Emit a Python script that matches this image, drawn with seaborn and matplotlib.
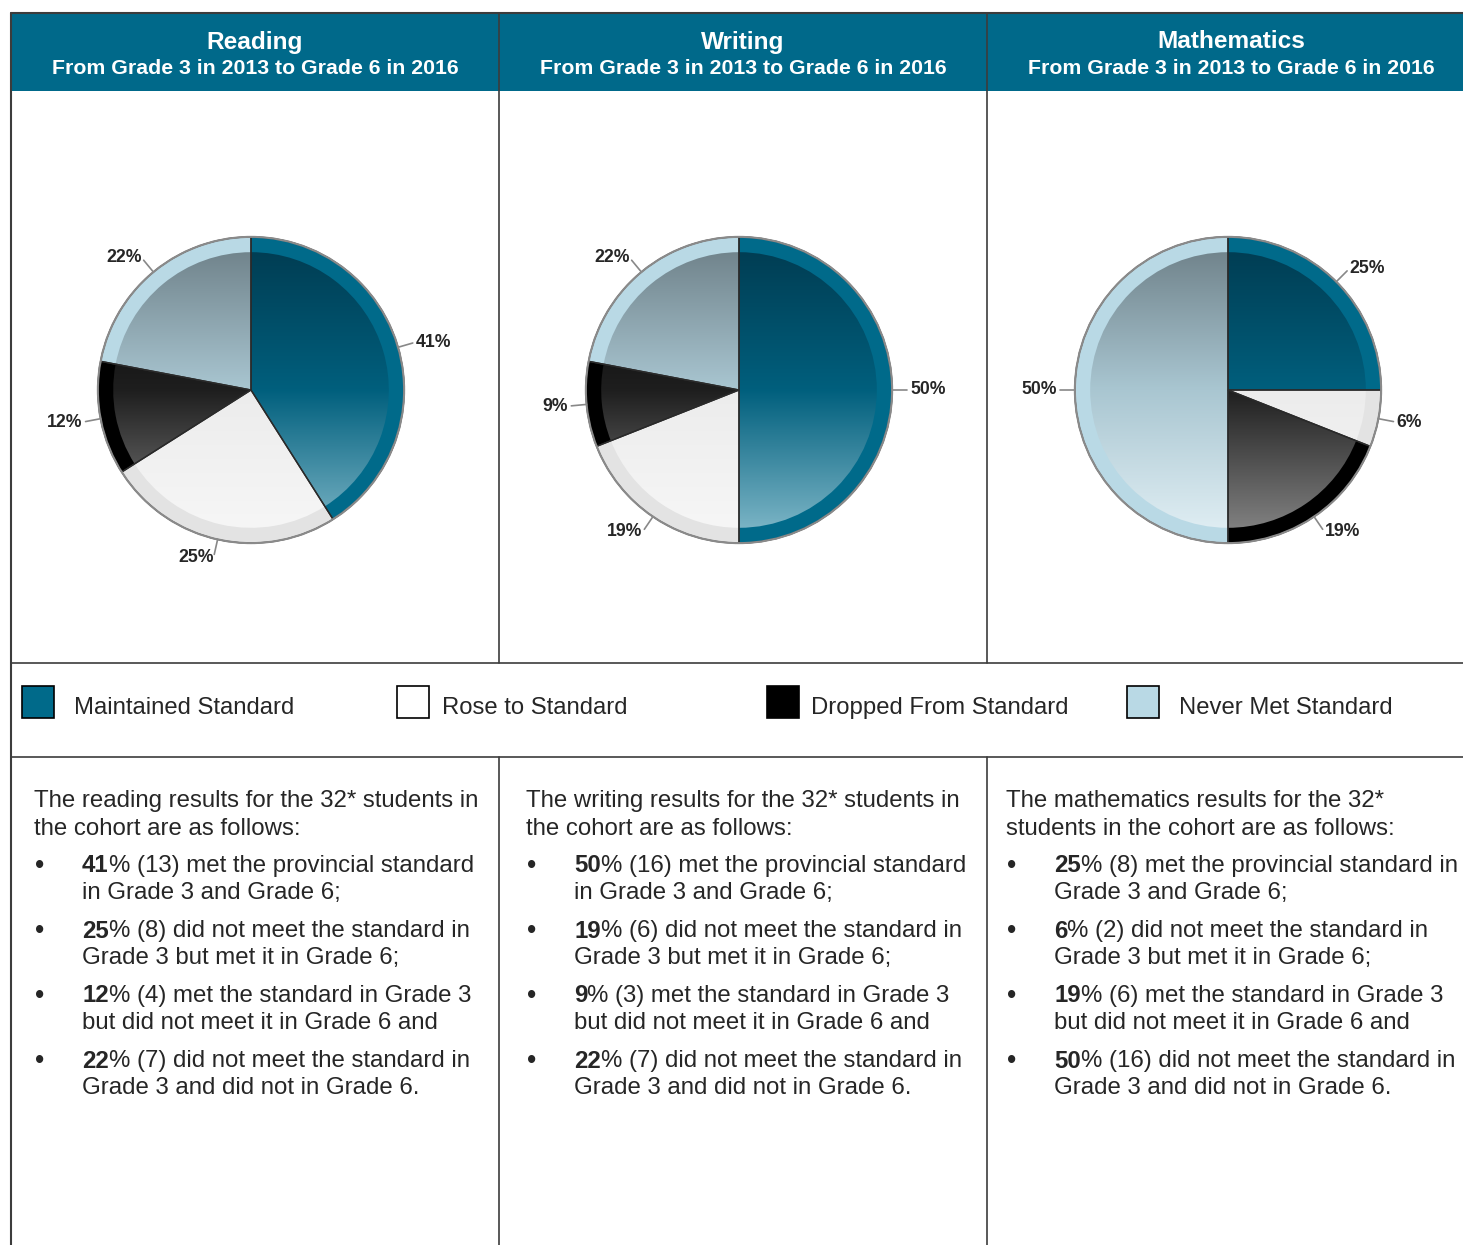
import numpy as np
import matplotlib
matplotlib.use("Agg")
import matplotlib.pyplot as plt
from matplotlib.patches import Wedge, Rectangle
from matplotlib.colors import LinearSegmentedColormap
import seaborn as sns

# data
categories = ["Maintained Standard", "Rose to Standard", "Dropped From Standard", "Never Met Standard"]
subjects = ["Reading", "Writing", "Mathematics"]
subtitle = "From Grade 3 in 2013 to Grade 6 in 2016"
reading_pct = [41, 25, 12, 22]
writing_pct = [50, 19, 9, 22]
math_pct = [25, 6, 19, 50]
reading_n = [13, 8, 4, 7]
writing_n = [16, 6, 3, 7]
math_n = [8, 2, 6, 16]

intro_reading = ["The reading results for the 32* students in", "the cohort are as follows:"]
intro_writing = ["The writing results for the 32* students in", "the cohort are as follows:"]
intro_math = ["The mathematics results for the 32*", "students in the cohort are as follows:"]

phrases_reading = [
    ("met the provincial standard", "in Grade 3 and Grade 6;"),
    ("did not meet the standard in", "Grade 3 but met it in Grade 6;"),
    ("met the standard in Grade 3", "but did not meet it in Grade 6 and"),
    ("did not meet the standard in", "Grade 3 and did not in Grade 6."),
]
phrases_writing = phrases_reading
phrases_math = [
    ("met the provincial standard in", "Grade 3 and Grade 6;"),
    ("did not meet the standard in", "Grade 3 but met it in Grade 6;"),
    ("met the standard in Grade 3", "but did not meet it in Grade 6 and"),
    ("did not meet the standard in", "Grade 3 and did not in Grade 6."),
]

# styles
rim_colors = ["#006a8a", "#e3e3e3", "#000000", "#b9d9e5"]
grad_stops = [
    ["#003a4f", "#005f7d", "#86bccc"],
    ["#e2e2e2", "#ececec", "#f7f7f7"],
    ["#000000", "#1e1e1e", "#8a8a8a"],
    ["#6b7d85", "#a9c6d1", "#e4f1f6"],
]
legend_fill = ["#006a8a", "#ffffff", "#000000", "#b9d9e5"]
header_col = "#00698a"
line_col = "#3c3c3c"

sns.set_style("white")
plt.rcParams['font.family'] = ['Liberation Sans', 'DejaVu Sans']

W, H = 1463, 1245
fig = plt.figure(figsize=(W / 100, H / 100), dpi=100)
ax = fig.add_axes([0, 0, 1, 1])
ax.set_xlim(0, W)
ax.set_ylim(H, 0)
ax.axis("off")

col_x = [11, 499, 987, 1475]

# header band and table lines
ax.add_patch(Rectangle((11, 13), 1475 - 11, 78, facecolor=header_col, edgecolor="none"))
ax.plot([11, 1475], [13, 13], color=line_col, lw=1.5)
ax.plot([11, 11], [13, H], color=line_col, lw=1.5)
for x in col_x[1:3]:
    ax.plot([x, x], [13, 663], color=line_col, lw=1.2)
    ax.plot([x, x], [757, H], color=line_col, lw=1.2)
for y in [663, 757]:
    ax.plot([11, 1475], [y, y], color=line_col, lw=1.2)

for i, s in enumerate(subjects):
    cx = (col_x[i] + col_x[i + 1]) / 2
    ax.text(cx, 42, s, color="white", fontsize=17.6, fontweight="bold", ha="center", va="center")
    ax.text(cx, 68, subtitle, color="white", fontsize=15.3, fontweight="bold", ha="center", va="center")

# legend row
leg_x = [22, 397, 767, 1127]
leg_tx = [74, 442, 811, 1179]
for x, tx, lab, fc in zip(leg_x, leg_tx, categories, legend_fill):
    ax.add_patch(Rectangle((x, 686), 32, 32, facecolor=fc, edgecolor="black", lw=1.2))
    ax.text(tx, 708, lab, fontsize=17.2, ha="left", va="center")

# pies
pies = [reading_pct, writing_pct, math_pct]
pie_cx = [251, 739, 1228]
pie_cy = 390
half = 245
grad = np.linspace(0, 1, 256).reshape(-1, 1)

for vals, cx in zip(pies, pie_cx):
    pax = fig.add_axes([(cx - half) / W, (H - pie_cy - half) / H, 2 * half / W, 2 * half / H])
    wedges, _ = pax.pie(vals, colors=rim_colors, startangle=90, counterclock=False,
                        wedgeprops=dict(edgecolor="none"))
    for k, w in enumerate(wedges):
        inner = Wedge((0, 0), 0.9, w.theta1, w.theta2, facecolor="none", edgecolor="none")
        pax.add_patch(inner)
        cmap = LinearSegmentedColormap.from_list("g%d" % k, grad_stops[k])
        im = pax.imshow(grad, cmap=cmap, extent=(-1, 1, -1, 1), aspect="auto", zorder=2)
        im.set_clip_path(inner)
        pax.add_patch(Wedge((0, 0), 1, w.theta1, w.theta2, facecolor="none",
                            edgecolor="#2a2a2a", lw=1.0, zorder=3))
        # label
        ang = np.deg2rad((w.theta1 + w.theta2) / 2)
        c, sn = np.cos(ang), np.sin(ang)
        pax.plot([c * 1.0, c * 1.1], [sn * 1.0, sn * 1.1], color="#888888", lw=1.2, zorder=4)
        pax.text(c * 1.12, sn * 1.12, "%d%%" % vals[k], fontsize=12.7, fontweight="bold",
                 ha="left" if c >= 0 else "right", va="center")
    pax.add_patch(plt.Circle((0, 0), 1, facecolor="none", edgecolor="#8a8a8a", lw=1.5, zorder=4))
    pax.set_xlim(-1.6, 1.6)
    pax.set_ylim(-1.6, 1.6)
    pax.set_aspect("equal")
    pax.axis("off")

# body text
renderer = fig.canvas.get_renderer()
intros = [intro_reading, intro_writing, intro_math]
phrases = [phrases_reading, phrases_writing, phrases_math]
counts = [reading_n, writing_n, math_n]
text_x = [34, 526, 1006]
fs = 17.3
bullet_y = [866, 931, 996, 1061]

for i in range(3):
    x0 = text_x[i]
    ax.text(x0, 801, intros[i][0], fontsize=fs, ha="left", va="center")
    ax.text(x0, 829, intros[i][1], fontsize=fs, ha="left", va="center")
    for j, by in enumerate(bullet_y):
        ax.text(x0 + 1, by, "\u2022", fontsize=fs + 2, ha="left", va="center")
        tx = x0 + 48
        bt = ax.text(tx, by, "%d" % pies[i][j], fontsize=fs, fontweight="bold", ha="left", va="center")
        bb = bt.get_window_extent(renderer=renderer)
        ax.text(tx + bb.width, by, "%% (%d) %s" % (counts[i][j], phrases[i][j][0]),
                fontsize=fs, ha="left", va="center")
        ax.text(tx, by + 27, phrases[i][j][1], fontsize=fs, ha="left", va="center")

fig.savefig("out.png", dpi=100)
